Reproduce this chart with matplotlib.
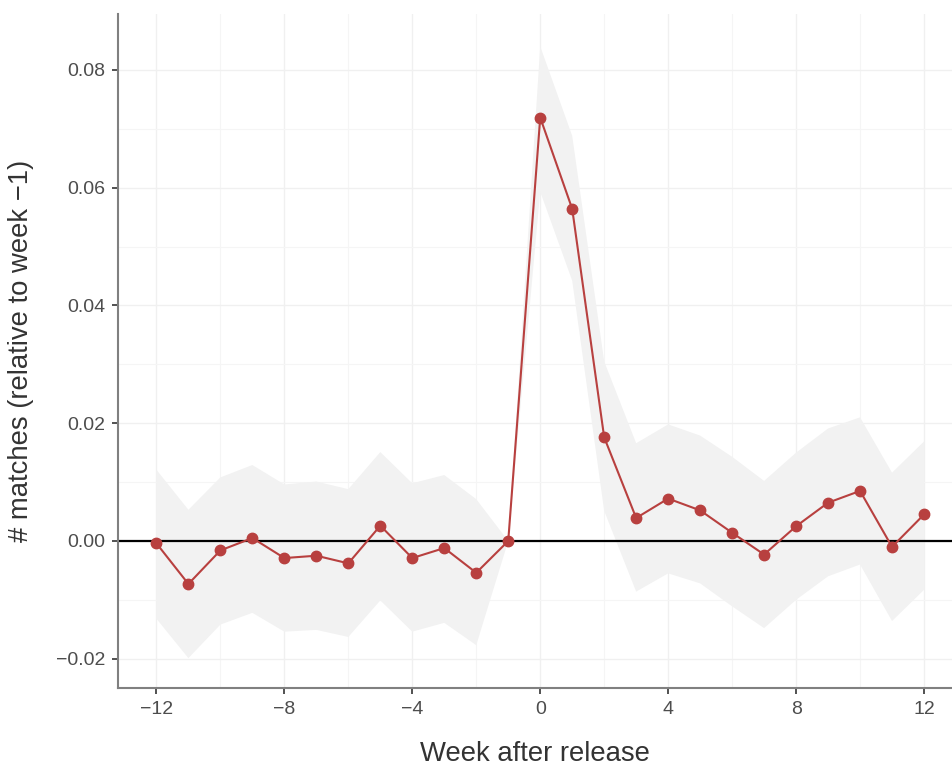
import matplotlib
matplotlib.use('Agg')
from matplotlib import pyplot as plt
from matplotlib.ticker import MultipleLocator

plt.rcParams['font.family'] = ['Liberation Sans', 'DejaVu Sans']

# weeks relative to release
weeks = list(range(-12, 13))
# estimated effect on # matches (relative to week -1)
estimate = [-0.0004, -0.0073, -0.0016, 0.0005, -0.0029, -0.0025, -0.0038, 0.0026,
            -0.0029, -0.0012, -0.0054, 0.0000,
            0.0719, 0.0564, 0.0176, 0.0039, 0.0072, 0.0052, 0.0014, -0.0023,
            0.0025, 0.0065, 0.0085, -0.0010, 0.0045]
ci_upper = [0.0121, 0.0053, 0.0108, 0.0129, 0.0096, 0.0101, 0.0088, 0.0151,
            0.0098, 0.0112, 0.0071, 0.0000,
            0.0840, 0.0688, 0.0305, 0.0166, 0.0198, 0.0179, 0.0143, 0.0102,
            0.0150, 0.0191, 0.0210, 0.0116, 0.0169]
ci_lower = [-0.0132, -0.0199, -0.0142, -0.0122, -0.0154, -0.0151, -0.0163, -0.0101,
            -0.0154, -0.0139, -0.0177, 0.0000,
            0.0593, 0.0442, 0.0051, -0.0086, -0.0055, -0.0072, -0.0111, -0.0148,
            -0.0100, -0.0060, -0.0040, -0.0136, -0.0083]

xticks = [-12, -8, -4, 0, 4, 8, 12]
yticks = [-0.02, 0.00, 0.02, 0.04, 0.06, 0.08]

fig = plt.figure(figsize=(9.52, 7.66), dpi=100)
ax = fig.add_axes([0.124, 0.1018, 0.876, 0.88])

ax.fill_between(weeks, ci_lower, ci_upper, facecolor='#f2f2f2', edgecolor='none', zorder=1)
ax.axhline(0, color='black', lw=1.6, zorder=2)
ax.plot(weeks, estimate, color='#b8403f', lw=1.5, marker='o', ms=7.5, zorder=3)

ax.set_xlim(-13.2, 12.875)
ax.set_ylim(-0.02497, 0.0895)
ax.set_xticks(xticks)
ax.set_yticks(yticks)
ax.set_yticklabels(['\u22120.02', '0.00', '0.02', '0.04', '0.06', '0.08'])
ax.set_xticklabels([('\u2212' + str(-t)) if t < 0 else str(t) for t in xticks])
ax.xaxis.set_minor_locator(MultipleLocator(2))
ax.yaxis.set_minor_locator(MultipleLocator(0.01))

ax.grid(which='major', color='#f0f0f0', lw=1.0, zorder=0)
ax.grid(which='minor', color='#f5f5f5', lw=0.8, zorder=0)
ax.set_axisbelow(True)

for s in ['top', 'right']:
    ax.spines[s].set_visible(False)
for s in ['left', 'bottom']:
    ax.spines[s].set_color('#808080')
    ax.spines[s].set_linewidth(1.5)

ax.tick_params(which='major', length=4, width=1.2, color='#333333',
               labelcolor='#4d4d4d', labelsize=14, pad=5)
ax.tick_params(which='minor', length=0)

ax.set_xlabel('Week after release', fontsize=19.8, color='#333333', labelpad=17)
ax.set_ylabel('# matches (relative to week \u22121)', fontsize=19.8, color='#333333', labelpad=16)

fig.savefig('out.png', dpi=100)
